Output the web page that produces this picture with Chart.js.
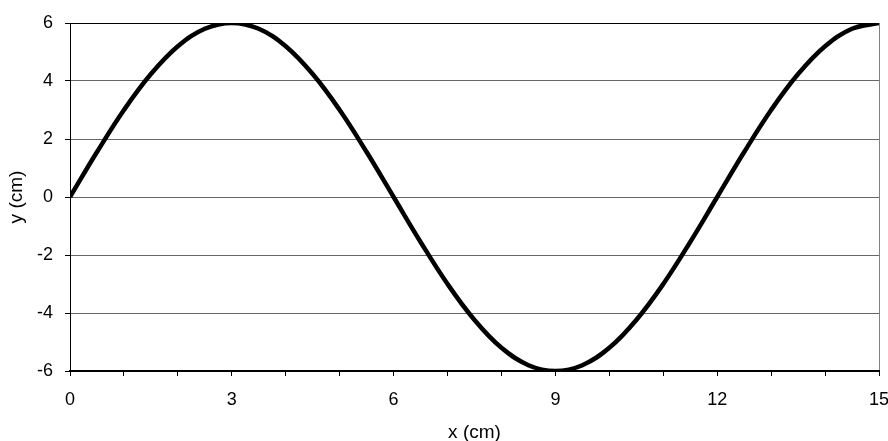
<!DOCTYPE html>
<html>
<head>
<meta charset="utf-8">
<script src="https://cdn.jsdelivr.net/npm/chart.js@4"></script>
<style>
  html, body { margin: 0; padding: 0; background: #fff; }
  #wrap { width: 888px; height: 441px; }
</style>
</head>
<body>
<div id="wrap"><canvas id="wave" width="888" height="441"></canvas></div>
<script>
// x (cm) and y (cm)
const xValues = [0, 0.5, 1, 1.5, 2, 2.5, 3, 3.5, 4, 4.5, 5, 5.5, 6, 6.5, 7, 7.5,
    8, 8.5, 9, 9.5, 10, 10.5, 11, 11.5, 12, 12.5, 13, 13.5, 14, 14.5, 15]
const yValues = [0, 1.55, 3, 4.24, 5.2, 5.8, 6, 5.8, 5.2, 4.24, 3, 1.55, 0, -1.55, -3, -4.24,
    -5.2, -5.8, -6, -5.8, -5.2, -4.24, -3, -1.55, 0, 1.55, 3, 4.24, 5.2, 5.8, 6]
const xTickLabels = [0, 3, 6, 9, 12, 15]
const yTickLabels = [-6, -4, -2, 0, 2, 4, 6]

Chart.defaults.font.family = '"Liberation Sans", Arial, sans-serif'
Chart.defaults.font.size = 18
Chart.defaults.color = '#000'

const waveConfig = {
    type: 'line',
    data: {
        datasets: [{
            data: xValues.map((x, i) => ({ x: x, y: yValues[i] })),
            borderColor: '#000',
            borderWidth: 4.5,
            pointRadius: 0,
            tension: 0.4,
            fill: false,
        }],
    },
    options: {
        responsive: false,
        animation: false,
        layout: { padding: { top: 23, right: 9, left: 0, bottom: 0 } },
        plugins: {
            legend: { display: false },
            tooltip: { enabled: false },
        },
        scales: {
            x: {
                type: 'linear',
                min: 0,
                max: 15,
                afterFit: (scale) => {
                    scale.height = 70
                    // let the "15" hang off the edge like the original
                    scale.paddingRight = 9
                    scale.paddingLeft = 0
                },
                ticks: {
                    stepSize: 1,
                    maxRotation: 0,
                    autoSkip: false,
                    padding: 13,
                    callback: (v) => xTickLabels.includes(v) ? String(v) : '',
                },
                grid: {
                    color: (ctx) => ctx.tick && ctx.tick.value === 15 ? '#808080' : 'transparent',
                    tickColor: '#000',
                    tickLength: 5,
                    lineWidth: 1,
                },
                border: { color: '#000', width: 2 },
                title: {
                    display: true,
                    text: 'x (cm)',
                    font: { size: 19 },
                    padding: { top: 0, bottom: -3 },
                },
            },
            y: {
                min: -6,
                max: 6,
                afterFit: (scale) => { scale.width = 70 },
                afterBuildTicks: (scale) => { scale.ticks = yTickLabels.map(v => ({ value: v })) },
                ticks: { padding: 12 },
                grid: {
                    color: (ctx) => ctx.tick && ctx.tick.value === 6 ? '#000' : '#666',
                    tickColor: '#000',
                    tickLength: 5,
                },
                border: { color: '#000', width: 1 },
                title: {
                    display: true,
                    text: 'y (cm)',
                    font: { size: 19 },
                    padding: { top: 5, bottom: 5 },
                },
            },
        },
    },
}

const waveCtx = document.getElementById('wave')
window.myWave = new Chart(waveCtx, waveConfig)
</script>
</body>
</html>
